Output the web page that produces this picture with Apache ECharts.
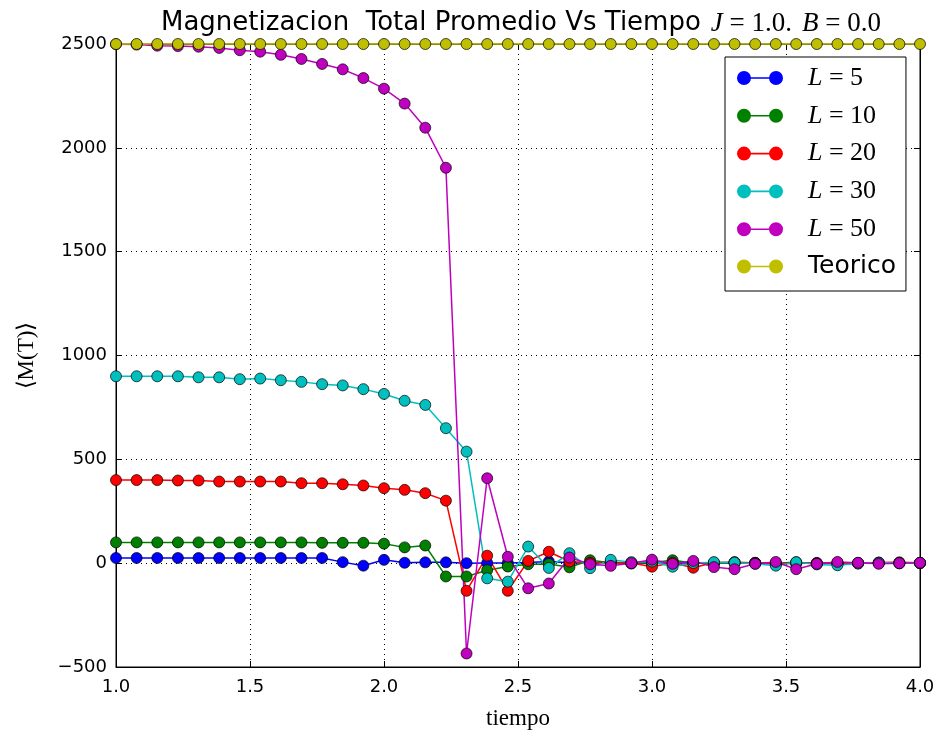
<!DOCTYPE html>
<html>
<head>
<meta charset="utf-8">
<script src="https://cdn.jsdelivr.net/npm/echarts@6/dist/echarts.min.js"></script>
<style>html,body{margin:0;padding:0;background:#fff;}#c{width:939px;height:730px;}</style>
</head>
<body>
<div id="c"></div>
<script>
const tiempo = [1.000,1.077,1.154,1.231,1.308,1.385,1.462,1.538,1.615,1.692,1.769,1.846,1.923,2.000,2.077,2.154,2.231,2.308,2.385,2.462,2.538,2.615,2.692,2.769,2.846,2.923,3.000,3.077,3.154,3.231,3.308,3.385,3.462,3.538,3.615,3.692,3.769,3.846,3.923,4.000];
const L5  = [25,25,25,25,25,25,25,25,25,25,25,5,-12,16,2,4,4,0,1,1,3,8,2,-1,3,1,-2,2,0,-1,2,1,0,-2,1,2,-1,0,1,0];
const L10 = [100,100,100,100,100,100,100,100,100,100,98,98,98,94,76,85,-64,-64,-34,-16,-5,-4,-20,14,2,-2,3,14,1,-2,3,2,0,4,-2,1,0,2,-1,1];
const L20 = [400,400,400,398,398,393,393,393,393,385,385,380,374,361,353,337,301,-133,36,-133,11,55,8,2,4,1,-17,2,-22,3,5,1,-4,2,0,-2,1,3,4,2];
const L30 = [900,900,900,900,895,895,886,889,881,873,862,856,838,815,782,762,650,537,-73,-89,80,-23,48,-24,16,5,8,-17,1,5,3,-3,-12,5,-6,-10,-2,2,1,0];
const L50 = [2499,2497,2492,2490,2487,2481,2470,2463,2448,2428,2404,2378,2336,2285,2213,2097,1904,-435,409,31,-121,-98,27,-5,-13,0,17,-3,11,-19,-29,-3,6,-29,-3,6,2,-3,0,2];
const Teorico = [2500,2500,2500,2500,2500,2500,2500,2500,2500,2500,2500,2500,2500,2500,2500,2500,2500,2500,2500,2500,2500,2500,2500,2500,2500,2500,2500,2500,2500,2500,2500,2500,2500,2500,2500,2500,2500,2500,2500,2500];
const xTicks = [1.0,1.5,2.0,2.5,3.0,3.5,4.0];
const yTicks = [-500,0,500,1000,1500,2000,2500];

const seriesDefs = [
  {name:'L5', label:'{i|L}{r| = 5}', data:L5, color:'#0000ff'},
  {name:'L10', label:'{i|L}{r| = 10}', data:L10, color:'#008000'},
  {name:'L20', label:'{i|L}{r| = 20}', data:L20, color:'#ff0000'},
  {name:'L30', label:'{i|L}{r| = 30}', data:L30, color:'#00bfbf'},
  {name:'L50', label:'{i|L}{r| = 50}', data:L50, color:'#bf00bf'},
  {name:'Teorico', label:'{s|Teorico}', data:Teorico, color:'#bfbf00'}
];
const labelMap = {};
seriesDefs.forEach(s => labelMap[s.name] = s.label);

const icon = 'path://M0,7 A7,7 0 1,1 14,7 A7,7 0 1,1 0,7 Z M12,6.2 L34,6.2 L34,7.8 L12,7.8 Z M32,7 A7,7 0 1,1 46,7 A7,7 0 1,1 32,7 Z';

const chart = echarts.init(document.getElementById('c'), null, {renderer:'canvas'});
const gridLeft = 116, gridRight = 19, gridTop = 44, gridBottom = 63;
const yMin = yTicks[0], yMax = yTicks[yTicks.length-1], yInt = yTicks[1]-yTicks[0];
const xMin = xTicks[0], xMax = xTicks[xTicks.length-1], xInt = xTicks[1]-xTicks[0];
const fmtY = v => (v < 0 ? '\u2212' + Math.abs(v) : String(v));
const tickStyle = {show: true, inside: true, length: 6, lineStyle: {color: '#000', width: 1}};

chart.setOption({
  animation: false,
  backgroundColor: '#fff',
  title: {
    text: '{a|Magnetizacion  Total Promedio Vs Tiempo}  {m|J}{r| = 1.0.}  {m|B}{r| = 0.0}',
    left: 516, top: 5, textAlign: 'center',
    textStyle: {
      fontWeight: 'normal',
      rich: {
        a: {fontFamily: 'DejaVu Sans', fontSize: 26, fontWeight: 'normal', color: '#000'},
        m: {fontFamily: 'Liberation Serif', fontStyle: 'italic', fontWeight: 'normal', fontSize: 27, color: '#000'},
        r: {fontFamily: 'Liberation Serif', fontWeight: 'normal', fontSize: 27, color: '#000'}
      }
    }
  },
  grid: {left: gridLeft, right: gridRight, top: gridTop, bottom: gridBottom, show: true, borderColor: '#000', borderWidth: 1, containLabel: false, outerBoundsMode: 'none'},
  legend: {
    orient: 'vertical', left: 725, top: 57,
    padding: [8, 10, 12, 12],
    itemWidth: 46, itemHeight: 14, itemGap: 11.8,
    icon: icon,
    backgroundColor: '#fff', borderColor: '#000', borderWidth: 1, borderRadius: 0,
    itemStyle: {borderWidth: 0},
    data: seriesDefs.map(s => s.name),
    formatter: n => labelMap[n],
    textStyle: {
      padding: [0, 0, 0, 20],
      rich: {
        i: {fontFamily: 'Liberation Serif', fontStyle: 'italic', fontSize: 26, color: '#000'},
        r: {fontFamily: 'Liberation Serif', fontSize: 26, color: '#000'},
        s: {fontFamily: 'DejaVu Sans', fontSize: 25, color: '#000'}
      }
    }
  },
  xAxis: [{
    type: 'value', min: xMin, max: xMax, interval: xInt,
    name: 'tiempo', nameLocation: 'middle', nameGap: 40,
    nameTextStyle: {fontFamily: 'Liberation Serif', fontSize: 23, color: '#000'},
    axisLine: {show: true, onZero: false, lineStyle: {color: '#000', width: 1}},
    axisTick: tickStyle,
    axisLabel: {formatter: v => v.toFixed(1), fontFamily: 'DejaVu Sans', fontSize: 18, color: '#000', margin: 11},
    splitLine: {show: true, lineStyle: {color: '#000', type: [1, 4], width: 1}}
  }, {
    type: 'value', min: xMin, max: xMax, interval: xInt, position: 'top',
    axisLine: {show: true, onZero: false, lineStyle: {color: '#000'}},
    axisTick: tickStyle,
    axisLabel: {show: false}, splitLine: {show: false}
  }],
  yAxis: [{
    type: 'value', min: yMin, max: yMax, interval: yInt,
    name: '\u27E8M(T)\u27E9', nameLocation: 'middle', nameGap: 78, nameRotate: 90,
    nameTextStyle: {fontFamily: 'Liberation Serif', fontSize: 23, color: '#000'},
    axisLine: {show: true, onZero: false, lineStyle: {color: '#000', width: 1}},
    axisTick: tickStyle,
    axisLabel: {formatter: fmtY, fontFamily: 'DejaVu Sans', fontSize: 18, color: '#000', margin: 9},
    splitLine: {show: true, lineStyle: {color: '#000', type: [1, 4], width: 1}}
  }, {
    type: 'value', min: yMin, max: yMax, interval: yInt, position: 'right',
    axisLine: {show: true, onZero: false, lineStyle: {color: '#000'}},
    axisTick: tickStyle,
    axisLabel: {show: false}, splitLine: {show: false}
  }],
  series: seriesDefs.map(s => ({
    name: s.name, type: 'line', xAxisIndex: 0, yAxisIndex: 0,
    data: tiempo.map((t, i) => [t, s.data[i]]),
    symbol: 'circle', symbolSize: 11, showSymbol: true, clip: false,
    color: s.color,
    lineStyle: {color: s.color, width: 1.5},
    itemStyle: {color: s.color, borderColor: '#000', borderWidth: 0.7},
    emphasis: {disabled: true}
  }))
});
</script>
</body>
</html>
